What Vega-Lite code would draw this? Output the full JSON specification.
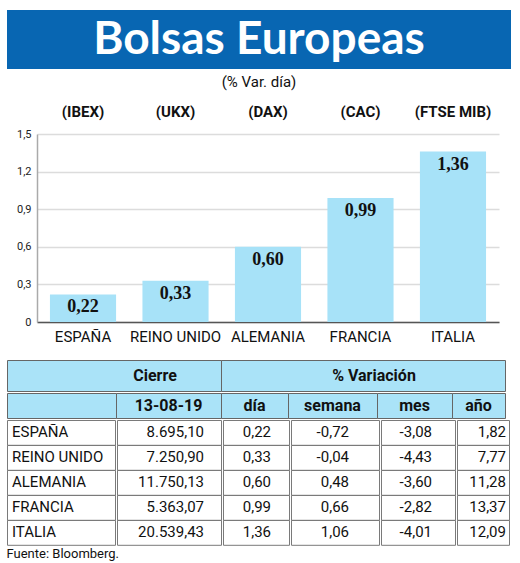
{
  "$schema": "https://vega.github.io/schema/vega-lite/v6.json",
  "padding": {"left": 6, "top": 10, "right": 6, "bottom": 4},
  "background": "white",
  "title": {
    "text": "Fuente: Bloomberg.",
    "orient": "bottom",
    "anchor": "start",
    "frame": "bounds",
    "offset": 3,
    "font": "Roboto",
    "fontSize": 13,
    "fontWeight": "normal",
    "color": "#111"
  },
  "datasets": {
    "bolsas": [
      {"pais": "ESPAÑA", "indice": "(IBEX)", "cierre": 8695.10, "dia": 0.22, "semana": -0.72, "mes": -3.08, "anio": 1.82},
      {"pais": "REINO UNIDO", "indice": "(UKX)", "cierre": 7250.90, "dia": 0.33, "semana": -0.04, "mes": -4.43, "anio": 7.77},
      {"pais": "ALEMANIA", "indice": "(DAX)", "cierre": 11750.13, "dia": 0.60, "semana": 0.48, "mes": -3.60, "anio": 11.28},
      {"pais": "FRANCIA", "indice": "(CAC)", "cierre": 5363.07, "dia": 0.99, "semana": 0.66, "mes": -2.82, "anio": 13.37},
      {"pais": "ITALIA", "indice": "(FTSE MIB)", "cierre": 20539.43, "dia": 1.36, "semana": 1.06, "mes": -4.01, "anio": 12.09}
    ]
  },
  "spacing": 15,
  "vconcat": [
    {
      "spacing": 6,
      "vconcat": [
        {
          "width": 504,
          "height": 59,
          "view": {"fill": "#0866b2", "stroke": null},
          "data": {"values": [{"titulo": "Bolsas Europeas"}]},
          "mark": {"type": "text", "font": "Lato", "fontWeight": "bold", "fontSize": 46, "color": "white", "baseline": "middle"},
          "encoding": {"text": {"field": "titulo"}}
        },
        {
          "width": 504,
          "height": 188,
          "view": {"stroke": null},
          "title": {
            "text": "(% Var. día)",
            "anchor": "middle",
            "offset": 15,
            "font": "Roboto",
            "fontSize": 15,
            "fontWeight": "normal",
            "color": "#111"
          },
          "data": {"name": "bolsas"},
          "encoding": {
            "x": {
              "field": "pais",
              "type": "nominal",
              "sort": null,
              "scale": {"range": [30, 492], "paddingInner": 0.285, "paddingOuter": 0.14},
              "axis": {
                "title": null,
                "labelAngle": 0,
                "ticks": false,
                "domainColor": "#555",
                "domainWidth": 1.5,
                "labelPadding": 7,
                "labelFont": "Roboto",
                "labelFontSize": 15,
                "labelColor": "#111"
              }
            },
            "y": {
              "field": "dia",
              "type": "quantitative",
              "scale": {"domain": [0, 1.5], "nice": false},
              "axis": {
                "title": null,
                "values": [0, 0.3, 0.6, 0.9, 1.2, 1.5],
                "format": ".1~f",
                "offset": -30,
                "ticks": false,
                "domainColor": "#aaa",
                "domainWidth": 1.5,
                "gridColor": "#dcdcdc",
                "gridWidth": 1.5,
                "labelPadding": 6,
                "labelFont": "Roboto",
                "labelFontSize": 11,
                "labelColor": "#222"
              }
            }
          },
          "layer": [
            {"mark": {"type": "bar", "color": "#a7e2f8"}},
            {
              "mark": {"type": "text", "baseline": "top", "dy": 4, "font": "Liberation Serif", "fontWeight": "bold", "fontSize": 18, "color": "#111"},
              "encoding": {"text": {"field": "dia", "format": ".2f"}}
            },
            {
              "mark": {"type": "text", "baseline": "middle", "dy": -22, "font": "Roboto", "fontWeight": "bold", "fontSize": 15, "color": "#111"},
              "encoding": {"y": {"datum": 1.5}, "text": {"field": "indice"}}
            }
          ]
        }
      ]
    },
    {
      "spacing": 0,
      "vconcat": [
        {
          "spacing": 0,
          "bounds": "flush",
          "hconcat": [
            {
              "width": 214, "height": 31,
              "view": {"fill": "#aae3f8", "stroke": "#666"},
              "data": {"values": [{"t": "Cierre"}]},
              "mark": {"type": "text", "dx": 41, "font": "Roboto", "fontWeight": "bold", "fontSize": 16, "color": "#111"},
              "encoding": {"text": {"field": "t"}}
            },
            {
              "width": 284, "height": 31,
              "view": {"fill": "#aae3f8", "stroke": "#666"},
              "data": {"values": [{"t": "% Variación"}]},
              "mark": {"type": "text", "dx": 11, "font": "Roboto", "fontWeight": "bold", "fontSize": 16, "color": "#111"},
              "encoding": {"text": {"field": "t"}}
            }
          ]
        },
        {
          "spacing": 0,
          "bounds": "flush",
          "hconcat": [
            {
              "width": 109, "height": 25,
              "view": {"fill": "#aae3f8", "stroke": "#666"},
              "data": {"values": [{"t": ""}]},
              "mark": {"type": "text", "font": "Roboto", "fontWeight": "bold", "fontSize": 16, "color": "#111"},
              "encoding": {"text": {"field": "t"}}
            },
            {
              "width": 105, "height": 25,
              "view": {"fill": "#aae3f8", "stroke": "#666"},
              "data": {"values": [{"t": "13-08-19"}]},
              "mark": {"type": "text", "font": "Roboto", "fontWeight": "bold", "fontSize": 16, "color": "#111"},
              "encoding": {"text": {"field": "t"}}
            },
            {
              "width": 67, "height": 25,
              "view": {"fill": "#aae3f8", "stroke": "#666"},
              "data": {"values": [{"t": "día"}]},
              "mark": {"type": "text", "font": "Roboto", "fontWeight": "bold", "fontSize": 16, "color": "#111"},
              "encoding": {"text": {"field": "t"}}
            },
            {
              "width": 89, "height": 25,
              "view": {"fill": "#aae3f8", "stroke": "#666"},
              "data": {"values": [{"t": "semana"}]},
              "mark": {"type": "text", "font": "Roboto", "fontWeight": "bold", "fontSize": 16, "color": "#111"},
              "encoding": {"text": {"field": "t"}}
            },
            {
              "width": 75, "height": 25,
              "view": {"fill": "#aae3f8", "stroke": "#666"},
              "data": {"values": [{"t": "mes"}]},
              "mark": {"type": "text", "font": "Roboto", "fontWeight": "bold", "fontSize": 16, "color": "#111"},
              "encoding": {"text": {"field": "t"}}
            },
            {
              "width": 53, "height": 25,
              "view": {"fill": "#aae3f8", "stroke": "#666"},
              "data": {"values": [{"t": "año"}]},
              "mark": {"type": "text", "font": "Roboto", "fontWeight": "bold", "fontSize": 16, "color": "#111"},
              "encoding": {"text": {"field": "t"}}
            }
          ]
        },
        {
          "spacing": 0,
          "hconcat": [
            {
              "data": {"name": "bolsas"},
              "facet": {"row": {"field": "pais", "sort": ["ESPAÑA", "REINO UNIDO", "ALEMANIA", "FRANCIA", "ITALIA"], "header": null}},
              "spacing": 0,
              "bounds": "flush",
              "spec": {
                "width": 108, "height": 24.8,
                "view": {"stroke": "#7a7a7a"},
                "mark": {"type": "text", "align": "left", "dx": -49, "font": "Roboto", "fontSize": 15, "color": "#111"},
                "encoding": {"text": {"field": "pais"}}
              }
            },
            {
              "data": {"name": "bolsas"},
              "facet": {"row": {"field": "pais", "sort": ["ESPAÑA", "REINO UNIDO", "ALEMANIA", "FRANCIA", "ITALIA"], "header": null}},
              "spacing": 0,
              "bounds": "flush",
              "spec": {
                "width": 104, "height": 24.8,
                "view": {"stroke": "#7a7a7a"},
                "mark": {"type": "text", "align": "right", "x": "width", "dx": -17, "font": "Roboto", "fontSize": 15, "color": "#111"},
                "encoding": {"text": {"field": "cierre", "format": ",.2f"}}
              }
            },
            {
              "data": {"name": "bolsas"},
              "facet": {"row": {"field": "pais", "sort": ["ESPAÑA", "REINO UNIDO", "ALEMANIA", "FRANCIA", "ITALIA"], "header": null}},
              "spacing": 0,
              "bounds": "flush",
              "spec": {
                "width": 66, "height": 24.8,
                "view": {"stroke": "#7a7a7a"},
                "mark": {"type": "text", "align": "right", "x": "width", "dx": -18, "font": "Roboto", "fontSize": 15, "color": "#111"},
                "encoding": {"text": {"field": "dia", "format": ".2f"}}
              }
            },
            {
              "data": {"name": "bolsas"},
              "facet": {"row": {"field": "pais", "sort": ["ESPAÑA", "REINO UNIDO", "ALEMANIA", "FRANCIA", "ITALIA"], "header": null}},
              "spacing": 0,
              "bounds": "flush",
              "spec": {
                "width": 88, "height": 24.8,
                "view": {"stroke": "#7a7a7a"},
                "mark": {"type": "text", "align": "right", "x": "width", "dx": -30, "font": "Roboto", "fontSize": 15, "color": "#111"},
                "encoding": {"text": {"field": "semana", "format": ".2f"}}
              }
            },
            {
              "data": {"name": "bolsas"},
              "facet": {"row": {"field": "pais", "sort": ["ESPAÑA", "REINO UNIDO", "ALEMANIA", "FRANCIA", "ITALIA"], "header": null}},
              "spacing": 0,
              "bounds": "flush",
              "spec": {
                "width": 74, "height": 24.8,
                "view": {"stroke": "#7a7a7a"},
                "mark": {"type": "text", "align": "right", "x": "width", "dx": -23, "font": "Roboto", "fontSize": 15, "color": "#111"},
                "encoding": {"text": {"field": "mes", "format": ".2f"}}
              }
            },
            {
              "data": {"name": "bolsas"},
              "facet": {"row": {"field": "pais", "sort": ["ESPAÑA", "REINO UNIDO", "ALEMANIA", "FRANCIA", "ITALIA"], "header": null}},
              "spacing": 0,
              "bounds": "flush",
              "spec": {
                "width": 52, "height": 24.8,
                "view": {"stroke": "#7a7a7a"},
                "mark": {"type": "text", "align": "right", "x": "width", "dx": -3, "font": "Roboto", "fontSize": 15, "color": "#111"},
                "encoding": {"text": {"field": "anio", "format": ".2f"}}
              }
            }
          ]
        }
      ]
    }
  ],
  "config": {
    "locale": {
      "number": {"decimal": ",", "thousands": ".", "grouping": [3], "currency": ["", " €"], "minus": "-"}
    }
  }
}
